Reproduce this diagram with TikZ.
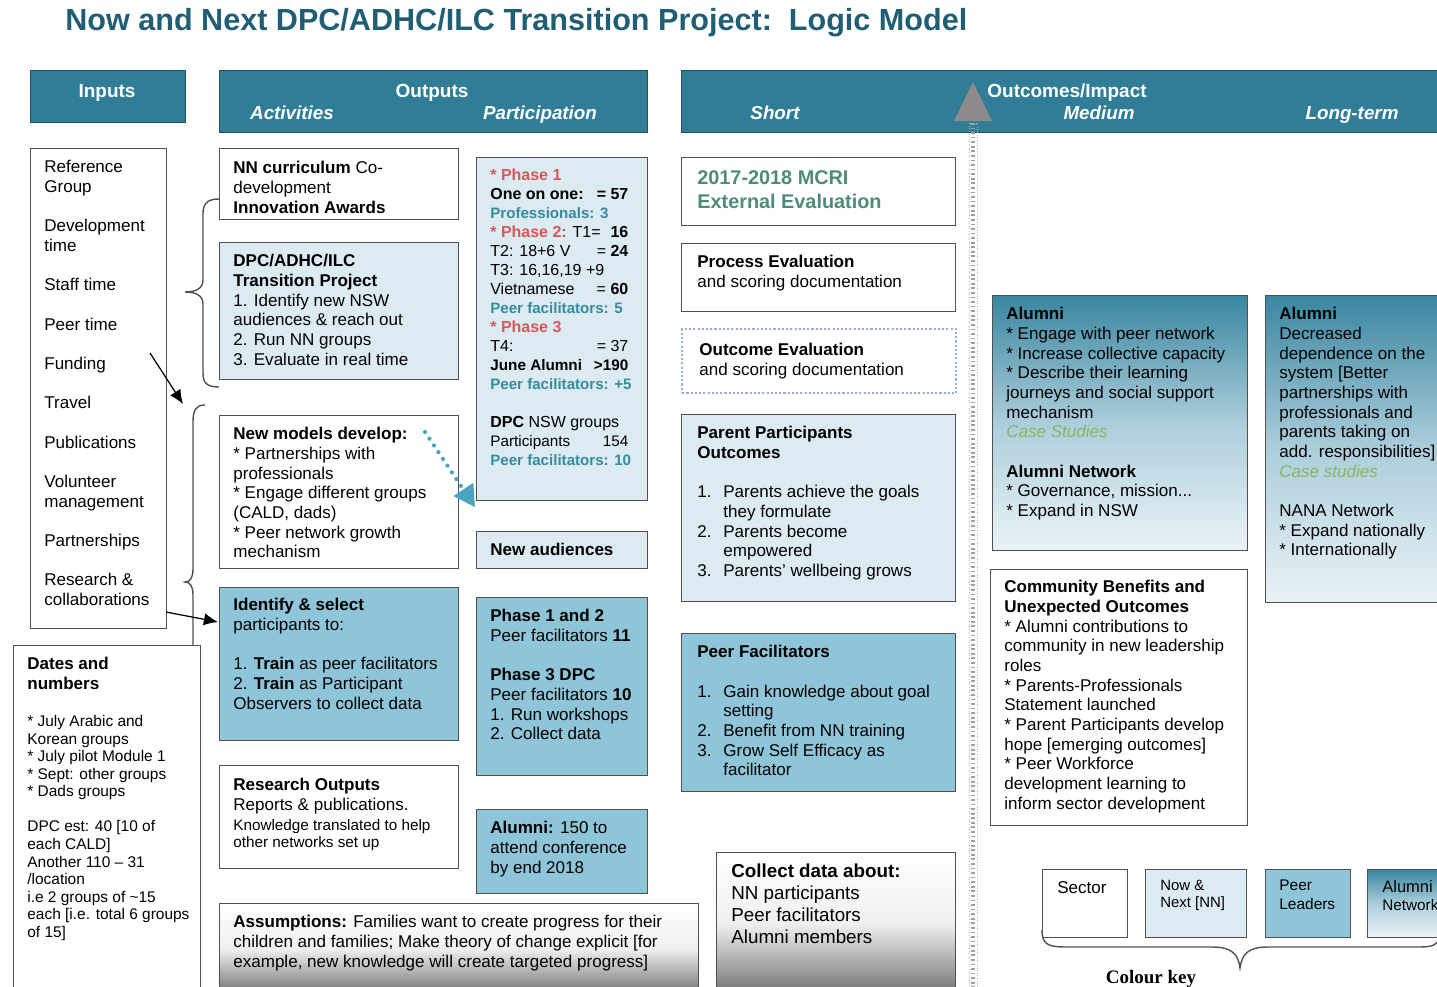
\documentclass[tikz,border=0pt]{standalone}
\usepackage{fontspec}
\setmainfont{Liberation Sans}
\newfontfamily\keyfont{Liberation Serif}
\usetikzlibrary{arrows.meta}

\definecolor{headc}{RGB}{47,125,150}
\definecolor{headline}{RGB}{30,80,98}
\definecolor{titlec}{RGB}{31,94,116}
\definecolor{linec}{RGB}{80,80,80}
\definecolor{lightc}{RGB}{220,234,242}
\definecolor{midc}{RGB}{143,197,216}
\definecolor{alumtop}{RGB}{58,134,160}
\definecolor{alummid}{RGB}{172,206,219}
\definecolor{alumbot}{RGB}{234,243,247}
\definecolor{phasec}{RGB}{214,88,88}
\definecolor{facc}{RGB}{52,140,158}
\definecolor{mcric}{RGB}{78,140,118}
\definecolor{casec}{RGB}{138,180,100}
\definecolor{dotc}{RGB}{74,163,192}
\definecolor{evalc}{RGB}{150,175,225}
\definecolor{tric}{RGB}{142,138,138}

\newcommand{\bodyf}{\fontsize{9.7}{11.2}\selectfont}
\newcommand{\smallf}{\fontsize{8.7}{10}\selectfont}
\newcommand{\bul}{* }
\newcommand{\itm}[1]{\makebox[0.52cm][l]{#1}}
\newcommand{\ind}{\hspace*{0.52cm}}
\newcommand{\facs}[1]{{\fontsize{8.6}{10}\selectfont\bfseries\color{facc}#1}}
\newcommand{\phs}[1]{{\bfseries\color{phasec}#1}}
\newcommand{\rline}[2]{\makebox[2.76cm][l]{#1\hfill#2}}
\newlength{\lskip}\setlength{\lskip}{11.2pt}

% box size in picture units
\tikzset{sz/.style 2 args={minimum width=#1*0.02cm,minimum height=#2*0.02cm}}

\begin{document}
\begin{tikzpicture}[x=0.02cm,y=-0.02cm]
  \tikzstyle{every node}=[inner sep=0pt]
  \tikzstyle{cell}=[draw=linec,line width=0.8pt,anchor=north west]
  \tikzstyle{sector}=[cell,fill=white]
  \tikzstyle{nnbox}=[cell,fill=lightc]
  \tikzstyle{peerbox}=[cell,fill=midc]
  \tikzstyle{alumbox}=[cell,top color=alumtop,bottom color=alumbot,middle color=alummid]
  \tikzstyle{greybox}=[cell,top color=white,bottom color=black!55,middle color=black!6]
  \tikzstyle{head}=[draw=headline,fill=headc,line width=0.8pt,anchor=north west]
  \tikzstyle{headtxt}=[anchor=base,text=white,font=\fontsize{10.8}{13}\selectfont\bfseries]
  \tikzstyle{subtxt}=[headtxt,font=\fontsize{10.7}{13}\selectfont\bfseries\itshape]
  \tikzstyle{txt}=[anchor=north west,align=left,font=\bodyf]
  \tikzstyle{link}=[-{Latex[length=8pt,width=7pt]},line width=0.7pt]

  \useasboundingbox (0,0) rectangle (1437,987);
  \clip (0,0) rectangle (1437,987);

  \node[anchor=base west,text=titlec,font=\fontsize{17.4}{20}\selectfont\bfseries] (title)
    at (65,31) {Now and Next DPC/ADHC/ILC Transition Project:\ \ Logic Model};

  % column heads
  \node[head,sz={155}{52}] (hin) at (30,70) {};
  \node[head,sz={428}{62}] (hout) at (219,70) {};
  \node[head,sz={790}{62}] (hoc) at (681,70) {};
  \fill[tric] (954,121) -- (992,121) -- (973,82) -- cycle;
  \node[headtxt] (hin-t) at (107,97) {Inputs};
  \node[headtxt] (hout-t) at (432,97) {Outputs};
  \node[subtxt] (act-t) at (292,119) {Activities};
  \node[subtxt] (part-t) at (540,119) {Participation};
  \node[headtxt] (hoc-t) at (1067,97) {Outcomes/Impact};
  \node[subtxt] (short-t) at (775,119) {Short};
  \node[subtxt] (med-t) at (1099,119) {Medium};
  \node[subtxt] (long-t) at (1352,119) {Long-term};

  % dotted divider between short and medium
  \draw[gray!55,densely dotted,line width=0.5pt] (969,123) rectangle (977,995);
  \draw[gray!75,line width=2.2pt,dash pattern=on 1pt off 1.6pt] (973,123) -- (973,995);

  % inputs
  \node[sector,sz={136}{480}] (inputs) at (30,148) {};
  \node[txt] (inputs-t) at (44,160) {Reference\\Group\\[\lskip]Development\\time\\[\lskip]Staff time\\[\lskip]Peer time\\[\lskip]Funding\\[\lskip]Travel\\[\lskip]Publications\\[\lskip]Volunteer\\management\\[\lskip]Partnerships\\[\lskip]Research \&\\collaborations};

  \node[sector,sz={187}{360}] (dates) at (13,645) {};
  \node[txt,font=\fontsize{9.7}{11.4}\selectfont\bfseries] (dates-h) at (27,657) {Dates and\\numbers};
  \node[txt,font=\fontsize{8.8}{10}\selectfont] (dates-t) at (27,715) {\bul July Arabic and\\Korean groups\\\bul July pilot Module 1\\\bul Sept: other groups\\\bul Dads groups\\[10pt]DPC est: 40 [10 of\\each CALD]\\Another 110 -- 31\\/location\\i.e 2 groups of \textasciitilde15\\each [i.e. total 6 groups\\of 15]};

  % activities
  \node[sector,sz={239}{71}] (nn) at (219,148) {};
  \node[txt] (nn-t) at (233,161) {\textbf{NN curriculum} Co-\\development\\\textbf{Innovation Awards}};
  \node[nnbox,sz={239}{137}] (dpc) at (219,242) {};
  \node[txt] (dpc-t) at (233,254) {\textbf{DPC/ADHC/ILC}\\\textbf{Transition Project}\\1. Identify new NSW\\audiences \& reach out\\2. Run NN groups\\3. Evaluate in real time};
  \node[sector,sz={239}{153}] (models) at (219,415) {};
  \node[txt] (models-t) at (233,427) {\textbf{New models develop:}\\\bul Partnerships with\\professionals\\\bul Engage different groups\\(CALD, dads)\\\bul Peer network growth\\mechanism};
  \node[peerbox,sz={239}{153}] (select) at (219,587) {};
  \node[txt] (select-t) at (233,598) {\textbf{Identify \& select}\\participants to:\\[\lskip]1. \textbf{Train} as peer facilitators\\2. \textbf{Train} as Participant\\Observers to collect data};
  \node[sector,sz={239}{103}] (research) at (219,765) {};
  \node[txt] (research-t) at (233,778) {\textbf{Research Outputs}\\Reports \& publications.\\{\smallf Knowledge translated to help}\\[-1.5pt]{\smallf other networks set up}};
  \node[greybox,sz={479}{90}] (assume) at (219,903) {};
  \node[txt] (assume-t) at (233,915) {\textbf{Assumptions:} Families want to create progress for their\\children and families; Make theory of change explicit [for\\example, new knowledge will create targeted progress]};

  % participation
  \node[nnbox,sz={171}{343}] (phase) at (476,157) {};
  \node[txt,font=\fontsize{9.1}{10.8}\selectfont] (phase-t) at (490,169) {\phs{* Phase 1}\\\rline{\textbf{One on one:}}{\textbf{= 57}}\\\facs{Professionals: 3}\\\rline{\phs{* Phase 2:} T1=}{\textbf{16}}\\\rline{T2: 18+6 V}{= \textbf{24}}\\T3: 16,16,19 +9\\\rline{Vietnamese}{= \textbf{60}}\\\facs{Peer facilitators: 5}\\\phs{* Phase 3}\\\rline{T4:}{= 37}\\{\fontsize{8.7}{10}\selectfont\bfseries\rline{June Alumni}{>190}}\\\facs{Peer facilitators: +5}\\[10.8pt]\textbf{DPC} NSW groups\\{\smallf\rline{Participants}{154}}\\\facs{Peer facilitators: 10}};
  \node[nnbox,sz={171}{37}] (audience) at (476,531) {};
  \node[txt] (audience-t) at (490,543) {\textbf{New audiences}};
  \node[peerbox,sz={171}{178}] (phases) at (476,597) {};
  \node[txt] (phases-t) at (490,609) {\textbf{Phase 1 and 2}\\Peer facilitators \textbf{11}\\[\lskip]\textbf{Phase 3 DPC}\\Peer facilitators \textbf{10}\\1. Run workshops\\2. Collect data};
  \node[peerbox,sz={171}{84}] (alumni) at (476,809) {};
  \node[txt] (alumni-t) at (490,821) {\textbf{Alumni:} 150 to\\attend conference\\by end 2018};

  % short term
  \node[sector,sz={274}{68}] (mcri) at (681,157) {};
  \node[txt,text=mcric,font=\fontsize{11.3}{13.7}\selectfont\bfseries] (mcri-t) at (697,170) {2017-2018 MCRI\\External Evaluation};
  \node[sector,sz={274}{68}] (process) at (681,243) {};
  \node[txt] (process-t) at (697,255) {\textbf{Process Evaluation}\\and scoring documentation};
  \node[anchor=north west,draw=evalc,dash pattern=on 1.2pt off 1.2pt,line width=1.4pt,fill=white,sz={274}{64}] (outcome) at (681,328) {};
  \node[txt] (outcome-t) at (699,343) {\textbf{Outcome Evaluation}\\and scoring documentation};
  \node[nnbox,sz={274}{187}] (parents) at (681,414) {};
  \node[txt] (parents-t) at (697,426) {\textbf{Parent Participants}\\\textbf{Outcomes}\\[\lskip]\itm{1.}Parents achieve the goals\\\ind they formulate\\\itm{2.}Parents become\\\ind empowered\\\itm{3.}Parents' wellbeing grows};
  \node[peerbox,sz={274}{158}] (peers) at (681,633) {};
  \node[txt] (peers-t) at (697,645) {\textbf{Peer Facilitators}\\[\lskip]\itm{1.}Gain knowledge about goal\\\ind setting\\\itm{2.}Benefit from NN training\\\itm{3.}Grow Self Efficacy as\\\ind facilitator};
  \node[greybox,sz={239}{141}] (collect) at (716,852) {};
  \node[txt,font=\fontsize{10.7}{12.5}\selectfont] (collect-t) at (731,864) {\textbf{Collect data about:}\\NN participants\\Peer facilitators\\Alumni members};

  % medium and long term
  \node[alumbox,sz={255}{255}] (alumnet) at (992,295) {};
  \node[txt] (alumnet-t) at (1006,307) {\textbf{Alumni}\\\bul Engage with peer network\\\bul Increase collective capacity\\\bul Describe their learning\\journeys and social support\\mechanism\\{\color{casec}\itshape Case Studies}\\[\lskip]\textbf{Alumni Network}\\\bul Governance, mission...\\\bul Expand in NSW};
  \node[sector,sz={257}{256}] (community) at (990,569) {};
  \node[txt] (community-t) at (1004,580) {\textbf{Community Benefits and}\\\textbf{Unexpected Outcomes}\\\bul Alumni contributions to\\community in new leadership\\roles\\\bul Parents-Professionals\\Statement launched\\\bul Parent Participants develop\\hope [emerging outcomes]\\\bul Peer Workforce\\development learning to\\inform sector development};
  \node[alumbox,sz={200}{307}] (nana) at (1265,295) {};
  \node[txt] (nana-t) at (1279,307) {\textbf{Alumni}\\Decreased\\dependence on the\\system [Better\\partnerships with\\professionals and\\parents taking on\\add. responsibilities]\\{\color{casec}\itshape Case studies}\\[\lskip]NANA Network\\\bul Expand nationally\\\bul Internationally};

  % colour key
  \node[sector,sz={85}{68}] (key-sector) at (1042,869) {};
  \node[txt] (key-sector-t) at (1057,881) {Sector};
  \node[nnbox,sz={101}{68}] (key-nn) at (1145,869) {};
  \node[txt,font=\fontsize{8.5}{9.7}\selectfont] (key-nn-t) at (1160,880) {Now \&\\Next [NN]};
  \node[peerbox,sz={85}{68}] (key-peer) at (1265,869) {};
  \node[txt,font=\fontsize{8.8}{10.8}\selectfont] (key-peer-t) at (1279,880) {Peer\\Leaders};
  \node[alumbox,sz={100}{68}] (key-alumni) at (1367,869) {};
  \node[txt,font=\fontsize{9.4}{10.3}\selectfont] (key-alumni-t) at (1382,880) {Alumni\\{\smallf Network}};
  \draw[linec,line width=0.8pt] (1042,930) .. controls (1042,946) and (1050,947) .. (1068,947)
    -- (1212,947) .. controls (1232,947) and (1238,954) .. (1240,968)
    .. controls (1242,954) and (1248,947) .. (1268,947) -- (1420,947)
    .. controls (1434,947) and (1437,944) .. (1440,938);
  \node[anchor=base,font=\keyfont\fontsize{10.8}{13}\selectfont\bfseries] (key-t) at (1151,983) {Colour key};

  % braces from inputs to activities
  \draw[linec,line width=0.8pt] (219,199) .. controls (207,199) and (203,204) .. (203,214)
    -- (203,280) .. controls (203,289) and (195,292) .. (185,292)
    .. controls (195,292) and (203,295) .. (203,304) -- (203,373)
    .. controls (203,383) and (207,387) .. (219,387);
  \draw[linec,line width=0.8pt] (205,405) .. controls (196,405) and (193,410) .. (193,422)
    -- (193,569) .. controls (193,578) and (190,582) .. (185,582)
    .. controls (190,582) and (193,586) .. (193,595) -- (193,645);

  % arrows
  \coordinate (fund-a) at (150,353);
  \coordinate (fund-b) at (183,404);
  \coordinate (coll-a) at (166,612);
  \coordinate (coll-b) at (218,622);
  \coordinate (grow-a) at (425,432);
  \coordinate (grow-b) at (475,507);
  \draw[link] (fund-a) -- (fund-b);
  \draw[link] (coll-a) -- (coll-b);
  \draw[dotc,line width=2.4pt,line cap=round,dash pattern=on 0pt off 4.6pt,
        -{Triangle[length=12pt,width=13pt]}] (grow-a) -- (grow-b);
\end{tikzpicture}
\end{document}
